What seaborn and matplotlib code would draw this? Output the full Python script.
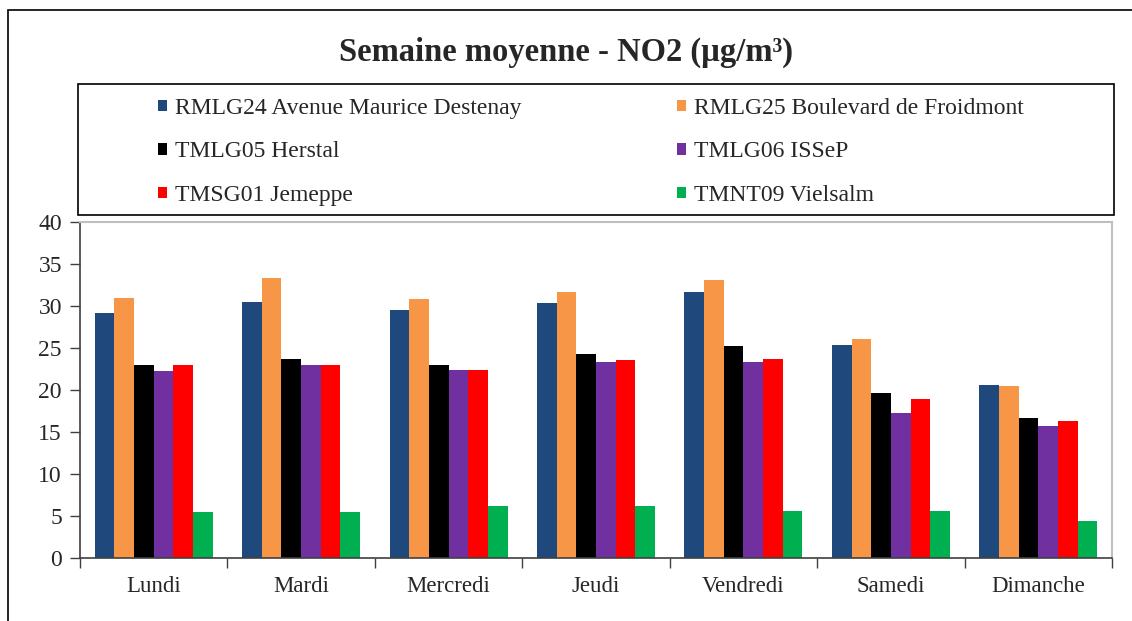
import pandas as pd
import matplotlib
matplotlib.use("Agg")
import matplotlib.pyplot as plt
import seaborn as sns
from matplotlib.patches import Rectangle

days = ["Lundi", "Mardi", "Mercredi", "Jeudi", "Vendredi", "Samedi", "Dimanche"]
stations = [
    "RMLG24 Avenue Maurice Destenay",
    "RMLG25 Boulevard de Froidmont",
    "TMLG05 Herstal",
    "TMLG06 ISSeP",
    "TMSG01 Jemeppe",
    "TMNT09 Vielsalm",
]
rmlg24 = [29.2, 30.5, 29.5, 30.4, 31.7, 25.3, 20.6]
rmlg25 = [30.9, 33.3, 30.8, 31.7, 33.1, 26.0, 20.4]
tmlg05 = [23.0, 23.7, 23.0, 24.3, 25.2, 19.6, 16.6]
tmlg06 = [22.2, 23.0, 22.4, 23.3, 23.3, 17.2, 15.7]
tmsg01 = [22.9, 22.9, 22.4, 23.6, 23.7, 18.9, 16.3]
tmnt09 = [5.4, 5.4, 6.1, 6.1, 5.5, 5.5, 4.3]
colors = ["#1F497D", "#F79646", "#000000", "#7030A0", "#FF0000", "#00B050"]

series = [rmlg24, rmlg25, tmlg05, tmlg06, tmsg01, tmnt09]
rows = []
for name, vals in zip(stations, series):
    for d, v in zip(days, vals):
        rows.append({"jour": d, "station": name, "no2": v})
df = pd.DataFrame(rows)

sns.set_style("white")
plt.rcParams["font.family"] = ["Liberation Serif", "DejaVu Serif"]

W, H = 1132, 621
fig = plt.figure(figsize=(W / 100, H / 100), dpi=100)
ax = fig.add_axes([80 / W, 1 - 557.5 / H, (1112 - 80) / W, (557.5 - 222) / H])

sns.barplot(data=df, x="jour", y="no2", hue="station", order=days,
            hue_order=stations, palette=colors, width=0.8, gap=0,
            linewidth=0, saturation=1, ax=ax, legend=True)

ax.set_ylim(0, 40)
ax.set_yticks(range(0, 41, 5))
ax.set_xlim(-0.5, len(days) - 0.5)
ax.set_xlabel("")
ax.set_ylabel("")
ax.tick_params(axis="y", direction="out", length=7, width=1, color="#404040",
               labelsize=17, pad=6, left=True)
ax.tick_params(axis="x", which="major", length=0, labelsize=16.5, pad=13.5)
ax.set_xticks([i - 0.5 for i in range(len(days) + 1)], minor=True)
ax.tick_params(axis="x", which="minor", direction="out", length=7, width=1,
               color="#404040", bottom=True)
for s in ["left", "bottom"]:
    ax.spines[s].set_color("#404040")
    ax.spines[s].set_linewidth(1.2)
for s in ["top", "right"]:
    ax.spines[s].set_color("#BFBFBF")
    ax.spines[s].set_linewidth(1.5)

# legend box and entries (row-wise order like the original)
handles, labels = ax.get_legend_handles_labels()
ax.get_legend().remove()
order = [0, 2, 4, 1, 3, 5]
handles = [handles[i] for i in order]
labels = [labels[i] for i in order]
fig.patches.append(Rectangle((78 / W, 1 - 214.5 / H), (1114 - 78) / W, (214.5 - 84) / H,
                             transform=fig.transFigure, fill=False,
                             edgecolor="#000000", linewidth=1.2))
fig.legend(handles, labels, ncol=2, frameon=False, mode="expand",
           bbox_to_anchor=(146 / W, 1 - 215 / H, (1036 - 146) / W, (215 - 89) / H),
           loc="center", fontsize=17, handlelength=0.38, handleheight=0.38,
           handletextpad=0.35, labelspacing=0.95, borderpad=0, columnspacing=1)

# outer frame (cut by the picture edge on the right and bottom)
fig.patches.append(Rectangle((8 / W, -0.1), 1.2, 1 - 10 / H + 0.1,
                             transform=fig.transFigure, fill=False,
                             edgecolor="#000000", linewidth=1.2))

fig.text(0.5, 1 - 52 / H, "Semaine moyenne - NO2 (µg/m³)", ha="center", va="center",
         fontsize=23.5, fontweight="bold")

fig.savefig("out.png", dpi=100)
